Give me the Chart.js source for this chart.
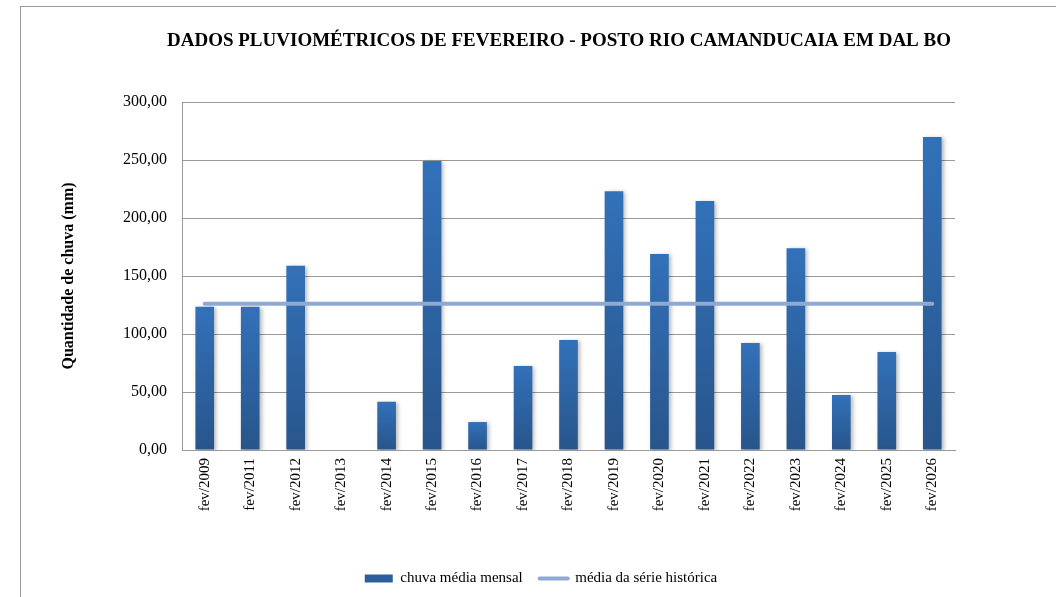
<!DOCTYPE html>
<html lang="pt-BR">
<head>
<meta charset="utf-8">
<title>Dados pluviométricos de fevereiro</title>
<script src="https://cdn.jsdelivr.net/npm/chart.js@4.4.1/dist/chart.umd.min.js"></script>
<style>
  html, body { margin: 0; padding: 0; background: #fff; overflow: hidden; }
  #moldura {
    position: absolute; left: 20px; top: 6px;
    width: 1200px; height: 800px;
    border-left: 1px solid #9a9a9a; border-top: 1px solid #9a9a9a;
  }
  #caixa { position: relative; width: 1056px; height: 597px; }
</style>
</head>
<body>
<div id="moldura"></div>
<div id="caixa"><canvas id="graficoChuva"></canvas></div>
<script>
const meses = ['fev/2009', 'fev/2011', 'fev/2012', 'fev/2013', 'fev/2014', 'fev/2015',
  'fev/2016', 'fev/2017', 'fev/2018', 'fev/2019', 'fev/2020', 'fev/2021',
  'fev/2022', 'fev/2023', 'fev/2024', 'fev/2025', 'fev/2026'];
const chuvaMensal = [123.5, 123.5, 158.9, 0, 41.6, 249.1, 24.1, 72.4, 94.8,
  223.0, 169.0, 214.7, 92.2, 174.0, 47.4, 84.5, 269.8];
const mediaSerie = [126.1, 126.1, 126.1, 126.1, 126.1, 126.1, 126.1, 126.1, 126.1,
  126.1, 126.1, 126.1, 126.1, 126.1, 126.1, 126.1, 126.1];
const ticksY = [0, 50, 100, 150, 200, 250, 300];

const fonte = "'Liberation Serif', 'Times New Roman', serif";

// gradiente vertical de cada barra (mais claro no topo)
function corBarra(c) {
  const chart = c.chart;
  if (!chart.chartArea || c.type !== 'data' || !c.parsed) return '#2E63A4';
  const y = chart.scales.y;
  const topo = y.getPixelForValue(c.parsed.y);
  const base = y.getPixelForValue(0);
  if (base - topo < 1) return '#2E63A4';
  const g = chart.ctx.createLinearGradient(0, topo, 0, base);
  g.addColorStop(0, '#3271B9');
  g.addColorStop(1, '#28558B');
  return g;
}

// sombra leve atrás das barras
const sombraBarras = {
  id: 'sombraBarras',
  beforeDatasetDraw(chart, args) {
    if (args.index !== 0) return;
    const ctx = chart.ctx;
    ctx.save();
    ctx.shadowColor = 'rgba(0,0,0,0.28)';
    ctx.shadowBlur = 4;
    ctx.shadowOffsetX = 2;
    ctx.shadowOffsetY = 1;
  },
  afterDatasetDraw(chart, args) {
    if (args.index === 0) chart.ctx.restore();
  }
};

// desloca título e legenda para as posições horizontais desejadas
const alinhaCaixas = {
  id: 'alinhaCaixas',
  afterLayout(chart) {
    const mover = (box, centro) => {
      if (!box) return;
      const dx = centro - (box.left + box.right) / 2;
      box.left += dx;
      box.right += dx;
    };
    mover(chart.titleBlock, 559);
    mover(chart.legend, 541);
  }
};

const ctx = document.getElementById('graficoChuva').getContext('2d');
new Chart(ctx, {
  data: {
    labels: meses,
    datasets: [
      {
        type: 'bar',
        label: 'chuva média mensal',
        data: chuvaMensal,
        backgroundColor: corBarra,
        borderWidth: 0,
        barPercentage: 0.41,
        categoryPercentage: 1,
        order: 1
      },
      {
        type: 'line',
        label: 'média da série histórica',
        data: mediaSerie,
        borderColor: '#8EA9D2',
        backgroundColor: '#8EA9D2',
        borderWidth: 4,
        borderCapStyle: 'round',
        pointRadius: 0,
        fill: false,
        order: 0
      }
    ]
  },
  options: {
    responsive: true,
    maintainAspectRatio: false,
    animation: false,
    layout: { padding: { left: 55, right: 101, top: 0, bottom: 1 } },
    scales: {
      x: {
        grid: { display: false },
        border: { display: true, color: '#999', width: 1 },
        ticks: {
          color: '#000',
          font: { family: fonte, size: 15 },
          minRotation: 90,
          maxRotation: 90,
          padding: 0,
          autoSkip: false
        },
        afterFit(scale) { scale.height = 104; }
      },
      y: {
        min: 0,
        max: 300,
        afterBuildTicks(scale) { scale.ticks = ticksY.map(v => ({ value: v })); },
        grid: { color: '#999', lineWidth: 1, drawTicks: false },
        border: { display: true, color: '#999', width: 1 },
        ticks: {
          color: '#000',
          padding: 15,
          font: { family: fonte, size: 16 },
          callback: v => v.toFixed(2).replace('.', ',')
        },
        title: {
          display: true,
          text: 'Quantidade de chuva (mm)',
          color: '#000',
          font: { family: fonte, size: 16, weight: 'bold' }
        },
        afterFit(scale) { scale.width = 127; }
      }
    },
    plugins: {
      title: {
        display: true,
        text: 'DADOS PLUVIOMÉTRICOS DE FEVEREIRO - POSTO RIO CAMANDUCAIA EM DAL BO',
        color: '#000',
        font: { family: fonte, size: 19, weight: 'bold' },
        padding: { top: 30, bottom: 49.2 }
      },
      legend: {
        position: 'bottom',
        labels: {
          color: '#000',
          font: { family: fonte, size: 15 },
          usePointStyle: true,
          pointStyleWidth: 28,
          boxHeight: 8,
          padding: 17,
          sort: (a, b) => a.datasetIndex - b.datasetIndex,
          generateLabels(chart) {
            const itens = Chart.defaults.plugins.legend.labels.generateLabels(chart);
            itens.forEach(item => {
              if (item.datasetIndex === 0) {
                item.pointStyle = 'rect';
                item.fillStyle = '#2C5E9C';
                item.lineWidth = 0;
              } else {
                item.pointStyle = 'line';
                item.strokeStyle = '#8EA9D2';
                item.lineWidth = 4;
                item.lineCap = 'round';
              }
            });
            return itens;
          }
        }
      },
      tooltip: { enabled: false }
    }
  },
  plugins: [sombraBarras, alinhaCaixas]
});
</script>
</body>
</html>
